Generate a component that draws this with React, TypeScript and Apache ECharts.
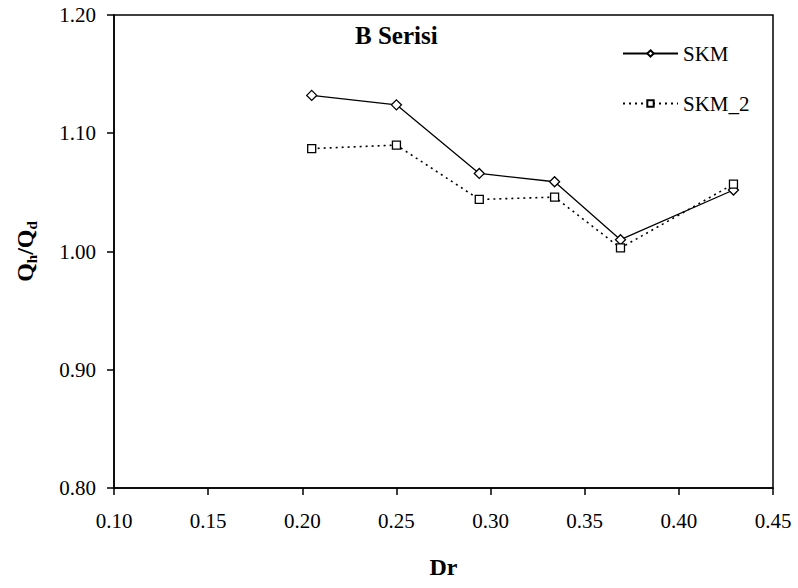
import React, { useEffect, useRef } from "react";
import * as echarts from "echarts";

const drValues = [0.205, 0.25, 0.294, 0.334, 0.369, 0.429];
const skm = [1.132, 1.124, 1.066, 1.059, 1.01, 1.052];
const skm2 = [1.087, 1.09, 1.044, 1.046, 1.003, 1.057];
const seriesNames = ["SKM", "SKM_2"];
const titleText = "B Serisi";
const xName = "Dr";

const FONT = "Times New Roman, Liberation Serif, DejaVu Serif, serif";

export default function App() {
  const ref = useRef<HTMLDivElement>(null);
  useEffect(() => {
    if (!ref.current) return;
    const chart = echarts.init(ref.current, null, { renderer: "svg" });
    const pair = (ys: number[]) => drValues.map((x, i) => [x, ys[i]]);
    chart.setOption({
      animation: false,
      backgroundColor: "#ffffff",
      textStyle: { fontFamily: FONT, color: "#000" },
      title: {
        text: titleText,
        left: 350,
        top: 18,
        textStyle: { fontFamily: FONT, fontSize: 25, fontWeight: "bold", color: "#000" },
      },
      legend: {
        orient: "vertical",
        left: 617,
        top: 38,
        itemWidth: 55,
        itemHeight: 8,
        itemGap: 29,
        textStyle: { fontFamily: FONT, fontSize: 21, color: "#000" },
        data: seriesNames,
      },
      grid: {
        left: 114,
        right: 25,
        top: 15,
        bottom: 100,
        show: true,
        borderColor: "#000",
        borderWidth: 1.5,
        containLabel: false,
      },
      xAxis: {
        type: "value",
        min: 0.1,
        max: 0.45,
        interval: 0.05,
        name: xName,
        nameLocation: "middle",
        nameGap: 67,
        nameTextStyle: { fontFamily: FONT, fontSize: 24, fontWeight: "bold", color: "#000" },
        axisLine: { show: true, onZero: false, lineStyle: { color: "#000", width: 1.5 } },
        axisTick: { show: true, inside: false, length: 7, lineStyle: { color: "#000", width: 1.5 } },
        axisLabel: {
          fontFamily: FONT,
          fontSize: 21,
          color: "#000",
          margin: 22,
          formatter: (v: number) => v.toFixed(2),
        },
        splitLine: { show: false },
      },
      yAxis: {
        type: "value",
        min: 0.8,
        max: 1.2,
        interval: 0.1,
        name: "Q{s|h}/Q{s|d}",
        nameLocation: "middle",
        nameGap: 75,
        nameRotate: 90,
        nameTextStyle: {
          fontFamily: FONT,
          fontSize: 24,
          fontWeight: "bold",
          color: "#000",
          lineHeight: 28,
          rich: {
            s: {
              fontFamily: FONT,
              fontSize: 15,
              fontWeight: "bold",
              color: "#000",
              verticalAlign: "bottom",
              lineHeight: 28,
            },
          },
        },
        axisLine: { show: true, onZero: false, lineStyle: { color: "#000", width: 1.5 } },
        axisTick: { show: true, inside: false, length: 7, lineStyle: { color: "#000", width: 1.5 } },
        axisLabel: {
          fontFamily: FONT,
          fontSize: 21,
          color: "#000",
          margin: 18,
          formatter: (v: number) => v.toFixed(2),
        },
        splitLine: { show: false },
      },
      series: [
        {
          name: seriesNames[0],
          type: "line",
          data: pair(skm),
          symbol: "diamond",
          symbolSize: 10,
          itemStyle: { color: "#fff", borderColor: "#000", borderWidth: 1.3 },
          lineStyle: { color: "#000", width: 1.3, type: "solid" },
        },
        {
          name: seriesNames[1],
          type: "line",
          data: pair(skm2),
          symbol: "rect",
          symbolSize: 8,
          itemStyle: { color: "#fff", borderColor: "#000", borderWidth: 1.3 },
          lineStyle: { color: "#000", width: 1.6, type: [2, 4] },
        },
      ],
    });
    return () => chart.dispose();
  }, []);
  return <div ref={ref} style={{ width: 798, height: 588, position: "absolute", left: 0, top: 0 }} />;
}
